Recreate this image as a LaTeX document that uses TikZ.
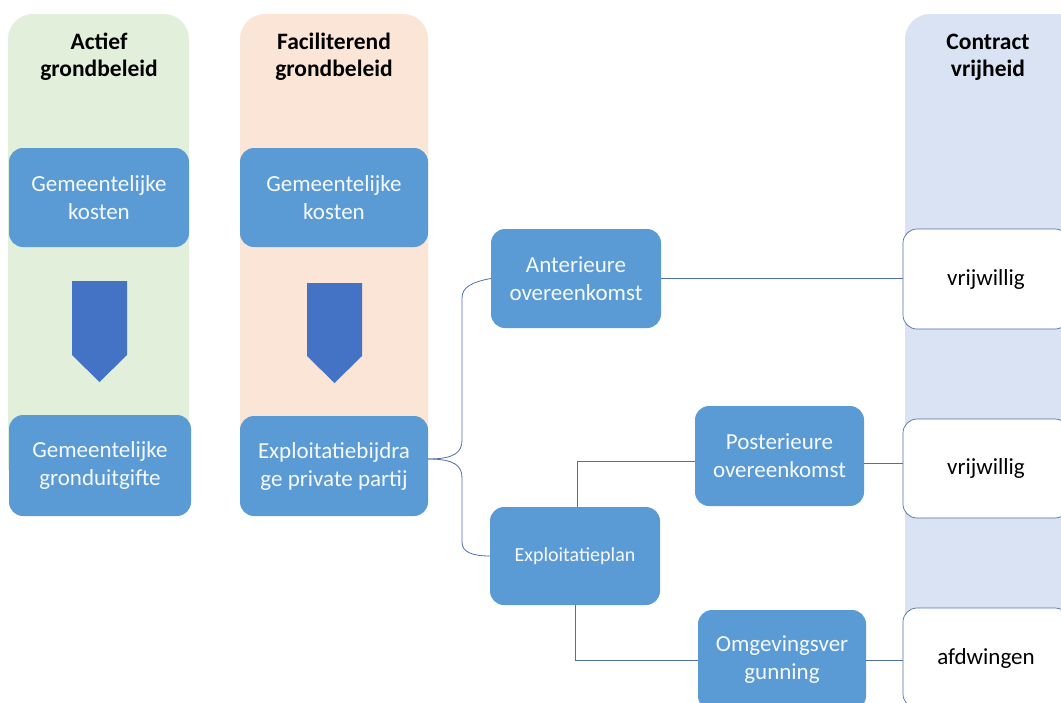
\documentclass[tikz,border=0pt]{standalone}
\usepackage{fontspec}
\setmainfont{Carlito}
\usetikzlibrary{calc}
\definecolor{colgreen}{HTML}{E2EFDA}
\definecolor{colpeach}{HTML}{FBE5D6}
\definecolor{colblue}{HTML}{DAE3F3}
\definecolor{boxblue}{HTML}{5B9BD5}
\definecolor{arrowblue}{HTML}{4472C4}
\definecolor{linecol}{HTML}{4F6FA8}
\begin{document}
\begin{tikzpicture}[x=1pt,y=-1pt,
  bluebox/.style={draw=none, fill=boxblue, rounded corners=14pt, text=white!94!boxblue, align=center,
    font=\fontsize{23}{28}\selectfont, inner sep=0pt},
  smallbox/.style={bluebox, font=\fontsize{20}{24}\selectfont},
  whitebox/.style={draw=linecol, line width=0.7pt, fill=white, rounded corners=14pt, text=black,
    align=center, font=\fontsize{23}{28}\selectfont, inner sep=0pt},
  header/.style={align=center, font=\bfseries\fontsize{23.5}{27}\selectfont, text=black, inner sep=0pt},
  conn/.style={draw=linecol, line width=0.8pt},
  downarrow/.style={fill=arrowblue, draw=none}]
\useasboundingbox (0,0) rectangle (1061,702);
\clip (0,0) rectangle (1061,702);
% columns
\fill[colgreen, rounded corners=25pt] (8,470) -- (8,14) -- (189,14) -- (189,470) [sharp corners] -- cycle;
\fill[colpeach, rounded corners=25pt] (240,470) -- (240,14) -- (428,14) -- (428,470) [sharp corners] -- cycle;
\fill[colblue, rounded corners=25pt] (905,720) -- (905,14) -- (1090,14) -- (1090,720) [sharp corners] -- cycle;
% headers
\node[header] (h1) at (99,57) {Actief\\grondbeleid};
\node[header] (h2) at (334,57) {Faciliterend\\grondbeleid};
\node[header] (h3) at (988,57) {Contract\\vrijheid};
% down arrows
\fill[downarrow] (72,281) -- (127,281) -- (127,355) -- (99.5,382) -- (72,355) -- cycle;
\fill[downarrow] (307,283) -- (362,283) -- (362,356) -- (334.5,383) -- (307,356) -- cycle;
% boxes
\node[bluebox, minimum width=180pt, minimum height=99pt] (k1) at (99,197.5) {Gemeentelijke\\kosten};
\node[bluebox, minimum width=188pt, minimum height=99pt] (k2) at (334,197.5) {Gemeentelijke\\kosten};
\node[bluebox, minimum width=182pt, minimum height=101pt] (grond) at (100,465.5) {Gemeentelijke\\gronduitgifte};
\node[bluebox, minimum width=188pt, minimum height=100pt] (expl) at (334,466) {Exploitatiebijdra\\ge private partij};
\node[bluebox, minimum width=170pt, minimum height=99pt] (ant) at (576,278.5) {Anterieure\\overeenkomst};
\node[bluebox, minimum width=169pt, minimum height=100pt] (post) at (779.5,456) {Posterieure\\overeenkomst};
\node[smallbox, minimum width=170pt, minimum height=98pt] (plan) at (575,556) {Exploitatieplan};
\node[bluebox, minimum width=168pt, minimum height=100pt] (omg) at (782,660) {Omgevingsver\\gunning};
\node[whitebox, minimum width=166pt, minimum height=100pt] (v1) at (986,279) {vrijwillig};
\node[whitebox, minimum width=166pt, minimum height=99pt] (v2) at (986,468.5) {vrijwillig};
\node[whitebox, minimum width=166pt, minimum height=100pt] (afd) at (986,658) {afdwingen};
% connectors
\coordinate (tip) at ($(expl.east)+(0,-7)$);
\draw[conn] (tip) .. controls (455,459) and (462,452) .. (462,440) -- (462,298)
  .. controls (462,287) and (472,282) .. (ant.west);
\draw[conn] (tip) .. controls (455,459) and (462,466) .. (462,478) -- (462,542)
  .. controls (462,552) and (472,556) .. (plan.west);
\draw[conn] ($(plan.north)+(2,0)$) |- ($(post.west)+(0,5)$);
\draw[conn] (plan.south) |- (omg.west);
\draw[conn] (ant.east) -- (ant.east -| v1.west);
\draw[conn] ($(post.east)+(0,7)$) -- ($(post.east -| v2.west)+(0,7)$);
\draw[conn] (omg.east) -- (omg.east -| afd.west);
\end{tikzpicture}
\end{document}
